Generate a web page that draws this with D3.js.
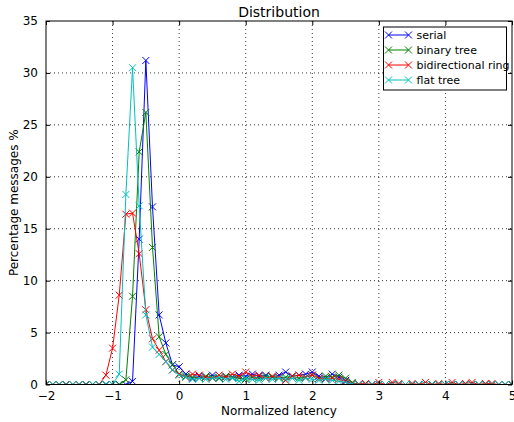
<!DOCTYPE html>
<html lang="en">
<head>
<meta charset="UTF-8">
<title>Distribution</title>
<script src="https://d3js.org/d3.v7.min.js"></script>
<style>
  body { margin: 0; background: #fff; }
  text { font-family: "DejaVu Sans", sans-serif; }
</style>
</head>
<body>
<div id="chart"></div>
<script>
// bins of normalized latency, -2.0 .. 5.0 step 0.1
var latency = d3.range(0, 71).map(function(i) { return Math.round((-2 + i * 0.1) * 10) / 10; });

// values from -2.0 .. -1.3 are zero for all series
var lead = [0, 0, 0, 0, 0, 0, 0, 0];

var serial = lead.concat([
  0, 0, 0, 0, 0, 0.3, 14.0, 31.2, 17.1, 6.7, 4.0, 1.9,          // -1.2 .. -0.1
  1.7, 1.0, 0.6, 0.8, 0.7, 0.9, 0.6, 0.8, 0.7, 0.9,             // 0.0 .. 0.9
  0.8, 1.0, 0.8, 0.9, 0.7, 0.9, 1.2, 0.8, 0.9, 1.0,             // 1.0 .. 1.9
  1.2, 0.8, 0.6, 1.0, 0.7, 0.4, 0.1, 0.05, 0, 0,                // 2.0 .. 2.9
  0, 0, 0, 0, 0, 0, 0, 0, 0, 0,                                  // 3.0 .. 3.9
  0, 0, 0, 0, 0, 0, 0, 0, 0, 0, 0                                // 4.0 .. 5.0
]);

var binaryTree = lead.concat([
  0, 0, 0, 0, 0.45, 8.5, 22.4, 26.2, 13.2, 4.6, 2.9, 1.9,
  1.0, 0.8, 0.7, 0.6, 0.8, 0.7, 0.6, 0.8, 0.7, 0.6,
  0.5, 0.7, 0.6, 0.8, 0.7, 0.6, 0.7, 0.8, 0.6, 0.7,
  0.9, 0.6, 0.8, 0.7, 0.9, 0.6, 0.2, 0, 0, 0,
  0, 0, 0, 0, 0, 0, 0, 0, 0, 0,
  0, 0, 0, 0, 0, 0, 0, 0, 0, 0, 0
]);

var bidirectionalRing = lead.concat([
  0, 0.9, 3.5, 8.6, 16.4, 16.5, 12.6, 7.2, 4.4, 3.3, 2.2, 1.4,
  1.0, 0.7, 1.0, 0.9, 0.7, 0.6, 0.9, 0.7, 1.0, 0.8,
  1.2, 0.8, 0.9, 0.6, 0.8, 0.7, 0.4, 0.8, 0.9, 0.7,
  0.9, 0.6, 0.5, 0.6, 0.5, 0.3, 0.1, 0.05, 0.1, 0,
  0.2, 0, 0.2, 0.1, 0, 0.1, 0, 0.2, 0, 0.1,
  0, 0.2, 0, 0.1, 0.2, 0, 0.1, 0.1, 0, 0, 0
]);

var flatTree = lead.concat([
  0, 0, 0, 1.0, 18.3, 30.5, 17.2, 6.7, 3.6, 2.9, 2.2, 1.4,
  0.9, 0.7, 0.5, 0.6, 0.5, 0.6, 0.7, 0.5, 0.6, 0.3,
  0.6, 0.5, 0.4, 0.6, 0.5, 0.6, 0.5, 0.6, 0.4, 0.6,
  0.5, 0.4, 0.5, 0.4, 0.3, 0.2, 0.05, 0, 0, 0,
  0, 0, 0, 0, 0, 0, 0, 0, 0, 0,
  0, 0, 0, 0, 0, 0, 0, 0, 0, 0, 0
]);

var seriesNames = ["serial", "binary tree", "bidirectional ring", "flat tree"];
var seriesColors = ["#0000ff", "#008000", "#ff0000", "#00bfbf"];
var seriesValues = [serial, binaryTree, bidirectionalRing, flatTree];

var xTicks = [-2, -1, 0, 1, 2, 3, 4, 5];
var yTicks = [0, 5, 10, 15, 20, 25, 30, 35];

var W = 514, H = 422;
var margin = { top: 21, right: 2, bottom: 37.5, left: 46 };
var width = W - margin.left - margin.right;
var height = H - margin.top - margin.bottom;

var svg = d3.select("#chart").append("svg")
  .attr("width", W).attr("height", H);

svg.append("defs").append("clipPath").attr("id", "plotClip")
  .append("rect").attr("width", width).attr("height", height);

var g = svg.append("g")
  .attr("transform", "translate(" + margin.left + "," + margin.top + ")");

var x = d3.scaleLinear().domain([-2, 5]).range([0, width]);
var y = d3.scaleLinear().domain([0, 35]).range([height, 0]);

function fmt(d) { return d < 0 ? "\u2212" + Math.abs(d) : String(d); }

// grid
g.append("g").selectAll("line").data(xTicks.slice(1, -1)).enter().append("line")
  .attr("x1", function(d) { return x(d); }).attr("x2", function(d) { return x(d); })
  .attr("y1", 0).attr("y2", height)
  .attr("stroke", "#000").attr("stroke-width", 0.8).attr("stroke-dasharray", "1,3");
g.append("g").selectAll("line").data(yTicks.slice(1, -1)).enter().append("line")
  .attr("y1", function(d) { return y(d); }).attr("y2", function(d) { return y(d); })
  .attr("x1", 0).attr("x2", width)
  .attr("stroke", "#000").attr("stroke-width", 0.8).attr("stroke-dasharray", "1,3");

// series
var plot = g.append("g").attr("clip-path", "url(#plotClip)");
var line = d3.line()
  .x(function(d, i) { return x(latency[i]); })
  .y(function(d) { return y(d); });

seriesValues.forEach(function(vals, k) {
  var col = seriesColors[k];
  plot.append("path").datum(vals)
    .attr("d", line).attr("fill", "none")
    .attr("stroke", col).attr("stroke-width", 1);
  plot.append("g").selectAll("path").data(vals).enter().append("path")
    .attr("transform", function(d, i) { return "translate(" + x(latency[i]) + "," + y(d) + ")"; })
    .attr("d", "M-3.5,-3.5L3.5,3.5M-3.5,3.5L3.5,-3.5")
    .attr("stroke", col).attr("stroke-width", 1).attr("fill", "none");
});

// axes with inward ticks on all sides
var axB = g.append("g").attr("transform", "translate(0," + height + ")")
  .call(d3.axisBottom(x).tickValues(xTicks).tickSizeInner(-4).tickSizeOuter(0).tickPadding(7).tickFormat(fmt));
var axT = g.append("g")
  .call(d3.axisTop(x).tickValues(xTicks).tickSizeInner(-4).tickSizeOuter(0).tickFormat(""));
var axL = g.append("g")
  .call(d3.axisLeft(y).tickValues(yTicks).tickSizeInner(-4).tickSizeOuter(0).tickPadding(8).tickFormat(fmt));
var axR = g.append("g").attr("transform", "translate(" + width + ",0)")
  .call(d3.axisRight(y).tickValues(yTicks).tickSizeInner(-4).tickSizeOuter(0).tickFormat(""));
[axB, axT, axL, axR].forEach(function(a) {
  a.select(".domain").remove();
  a.selectAll("text").attr("fill", "#000").style("font-size", "12px").style("font-family", "DejaVu Sans");
  a.selectAll("line").attr("stroke", "#000");
});

g.append("rect").attr("width", width).attr("height", height)
  .attr("fill", "none").attr("stroke", "#000").attr("stroke-width", 1);

// labels
svg.append("text").attr("x", margin.left + width / 2).attr("y", 17)
  .attr("text-anchor", "middle").style("font-size", "14px").text("Distribution");
svg.append("text").attr("x", margin.left + width / 2).attr("y", 415)
  .attr("text-anchor", "middle").style("font-size", "12px").text("Normalized latency");
svg.append("text")
  .attr("transform", "translate(18," + (margin.top + height / 2) + ") rotate(-90)")
  .attr("text-anchor", "middle").style("font-size", "12px").text("Percentage messages %");

// legend
var lg = svg.append("g").attr("transform", "translate(383.5,27)");
lg.append("rect").attr("width", 123).attr("height", 63)
  .attr("fill", "#fff").attr("stroke", "#000").attr("stroke-width", 1);
seriesNames.forEach(function(name, k) {
  var yy = 8 + k * 15;
  var col = seriesColors[k];
  lg.append("line").attr("x1", 5).attr("x2", 25).attr("y1", yy).attr("y2", yy)
    .attr("stroke", col).attr("stroke-width", 1);
  [5, 25].forEach(function(px) {
    lg.append("path").attr("transform", "translate(" + px + "," + yy + ")")
      .attr("d", "M-3.5,-3.5L3.5,3.5M-3.5,3.5L3.5,-3.5")
      .attr("stroke", col).attr("stroke-width", 1);
  });
  lg.append("text").attr("x", 33).attr("y", yy + 4)
    .style("font-size", "11px").text(name);
});
</script>
</body>
</html>
